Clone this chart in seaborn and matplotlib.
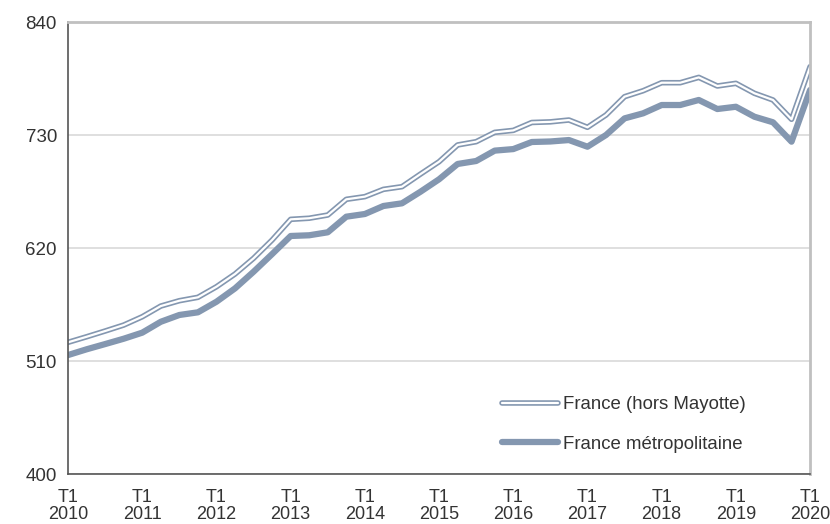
import pandas as pd
import numpy as np
import matplotlib
matplotlib.use("Agg")
import matplotlib.pyplot as plt
import matplotlib.patheffects as pe
from matplotlib.lines import Line2D
import seaborn as sns

# quarterly values, T1 2010 -> T1 2020
quarters = [f"T{q} {y}" for y in range(2010, 2020) for q in range(1, 5)] + ["T1 2020"]
hors_mayotte = [528.2, 533.6, 539.2, 545.0, 553.1, 563.5, 568.7, 572.0, 582.3, 594.7,
                610.0, 627.8, 647.9, 649.0, 652.1, 667.4, 670.0, 677.1, 679.7, 692.0,
                704.0, 720.3, 723.5, 732.6, 734.5, 742.2, 742.8, 744.6, 737.5, 749.5,
                767.3, 773.1, 780.9, 780.9, 786.1, 777.7, 780.3, 770.6, 764.1, 745.3,
                796.5]
metropole = [515.8, 521.4, 526.5, 531.7, 537.6, 548.2, 554.8, 557.4, 567.7, 580.7,
             596.9, 614.1, 631.7, 632.4, 635.3, 650.5, 653.1, 660.9, 663.5, 674.8,
             686.9, 701.8, 704.7, 714.8, 716.3, 723.2, 723.7, 725.1, 718.6, 730.0,
             746.2, 751.1, 759.2, 759.2, 764.1, 755.3, 757.5, 747.8, 742.4, 723.5,
             773.8]
y_ticks = [400, 510, 620, 730, 840]
x_labels = [f"T1\n{y}" for y in range(2010, 2021)]

df = pd.DataFrame({"idx": np.arange(len(quarters)), "quarter": quarters,
                   "hors": hors_mayotte, "metro": metropole})

sns.set_style("white")
plt.rcParams['font.family'] = ['Liberation Sans', 'DejaVu Sans']

color = '#8497B0'
fig = plt.figure(figsize=(8.3, 5.24), dpi=100)
ax = fig.add_axes([0.082, 0.0954, 0.894, 0.8626])

double = [pe.Stroke(linewidth=4.0, foreground=color), pe.Stroke(linewidth=1.6, foreground='white')]
sns.lineplot(data=df, x="idx", y="hors", ax=ax, color='white', linewidth=1.6,
             path_effects=double, legend=False)
sns.lineplot(data=df, x="idx", y="metro", ax=ax, color=color, linewidth=4.5, legend=False)

ax.set_xlim(0, len(quarters) - 1)
ax.set_ylim(400, 840)
ax.set_yticks(y_ticks)
ax.set_xticks(np.arange(0, len(quarters), 4))
ax.set_xticklabels(x_labels, linespacing=1.0)
ax.set_xlabel("")
ax.set_ylabel("")
ax.tick_params(axis='both', labelsize=13.5, colors='#333333', direction='out',
               length=4, width=1, pad=4)
ax.tick_params(axis='x', labelsize=13, length=6, pad=5)
ax.grid(axis='y', color='#d9d9d9', linewidth=1.2)
for s in ['left', 'bottom']:
    ax.spines[s].set_color('#555555')
    ax.spines[s].set_linewidth(1.2)
for s in ['top', 'right']:
    ax.spines[s].set_color('#c0c0c0')
    ax.spines[s].set_linewidth(2)

handles = [Line2D([], [], color='white', linewidth=1.6, path_effects=double),
           Line2D([], [], color=color, linewidth=4.5)]
ax.legend(handles, ["France (hors Mayotte)", "France métropolitaine"],
          loc='lower right', bbox_to_anchor=(0.936, 0.01), frameon=False, fontsize=13.4,
          handlelength=3.0, handletextpad=0.3, labelspacing=1.2, labelcolor='#333333')

fig.savefig("out.png", dpi=100)
